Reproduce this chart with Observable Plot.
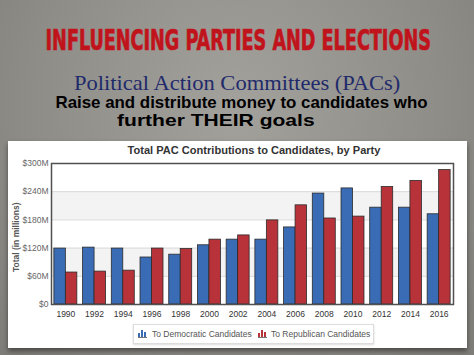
<!DOCTYPE html>
<html>
<head>
<meta charset="utf-8">
<script src="https://cdn.jsdelivr.net/npm/d3@7"></script>
<script src="https://cdn.jsdelivr.net/npm/@observablehq/plot@0.6"></script>
<style>
  html, body { margin: 0; padding: 0; }
  body { width: 474px; height: 355px; overflow: hidden; position: relative;
    background: radial-gradient(ellipse at 50% 30%, #a3a19c 0%, #8f8d88 60%, #7f7d78 100%); }
  .h { position: absolute; white-space: nowrap; line-height: 1; transform-origin: 50% 50%; }
  #t1 { font-family: "Liberation Sans Narrow", "DejaVu Sans Condensed", sans-serif; font-weight: bold; font-size: 28px; color: #c1131b; -webkit-text-stroke: 0.7px #c1131b; }
  #t2 { font-family: "Liberation Serif", "DejaVu Serif", serif; font-size: 21px; color: #1f2a6b; }
  #t3, #t4 { font-family: "Liberation Sans", Arial, sans-serif; font-weight: bold; font-size: 17px; color: #000; }
  #panel { position: absolute; left: 8px; top: 141px; width: 459px; height: 207px; background: #fff;
    box-shadow: 0 3px 5px rgba(0,0,0,0.45); }
  #panel svg { position: absolute; left: 0; top: 0; }
  #ctitle { position: absolute; font-family: "Liberation Sans", Arial, sans-serif; font-weight: bold; font-size: 10.5px; color: #333; white-space: nowrap; line-height: 1; }
  #ylab { position: absolute; font-family: "Liberation Sans", Arial, sans-serif; font-weight: bold; font-size: 8.5px; color: #555; white-space: nowrap; line-height: 1; transform-origin: 50% 50%; }
  #legend { position: absolute; left: 125px; top: 183px; width: 239px; height: 18px; border: 1px solid #ddd; background: #fff;
    box-shadow: 0 1px 2px rgba(0,0,0,0.15); font-family: "Liberation Sans", Arial, sans-serif; font-size: 8.5px; color: #555; }
  #legend span.item { position: absolute; top: 5px; white-space: nowrap; line-height: 1; }
  #legend svg { position: absolute; }
</style>
</head>
<body>
<div id="t1" class="h">INFLUENCING PARTIES AND ELECTIONS</div>
<div id="t2" class="h">Political Action Committees (PACs)</div>
<div id="t3" class="h">Raise and distribute money to candidates who</div>
<div id="t4" class="h">further THEIR goals</div>
<div id="panel">
  <div id="ctitle">Total PAC Contributions to Candidates, by Party</div>
  <div id="ylab">Total (in millions)</div>
  <div id="legend"></div>
</div>
<script>
// ---- data ----
const years = ["1990", "1992", "1994", "1996", "1998", "2000", "2002", "2004", "2006", "2008", "2010", "2012", "2014", "2016"];
const democratic = [119, 121, 119, 100, 106, 126, 138, 138, 164, 236, 247, 206, 206, 192];
const republican = [68, 70, 72, 119, 118, 138, 147, 179, 211, 183, 187, 250, 263, 286];
const seriesNames = ["To Democratic Candidates", "To Republican Candidates"];
const seriesColors = ["#3a6cb6", "#b8323a"];
const yTicks = [0, 60, 120, 180, 240, 300];
const bands = [[60, 120], [180, 240]];

const rows = [];
years.forEach((yr, i) => {
  rows.push({i, year: yr, party: seriesNames[0], value: democratic[i], side: -1});
  rows.push({i, year: yr, party: seriesNames[1], value: republican[i], side: 1});
});
const half = 0.4; // half of group width in category units

const chart = Plot.plot({
  width: 459,
  height: 207,
  marginLeft: 43,
  marginRight: 14,
  marginTop: 22,
  marginBottom: 44,
  style: {background: "transparent", fontFamily: "Liberation Sans, Arial, sans-serif", fontSize: "8.5px", color: "#333"},
  x: {type: "linear", domain: [-0.5, years.length - 0.5], ticks: years.map((_, i) => i),
      tickFormat: i => String(years[i]), tickSize: 0, tickPadding: 6, label: null},
  y: {domain: [0, 300], ticks: yTicks, tickFormat: d => d === 0 ? "$0" : `$${d}M`, tickSize: 0, tickPadding: 3, label: null},
  color: {domain: seriesNames, range: seriesColors},
  marks: [
    Plot.rectY(bands, {x1: -0.5, x2: years.length - 0.5, y1: d => d[0], y2: d => d[1], fill: "#f3f3f3"}),
    Plot.ruleY(yTicks.slice(1, -1), {stroke: "#d9d9d9", strokeWidth: 1}),
    Plot.rectY(rows, {
      x1: d => d.side < 0 ? d.i - half : d.i,
      x2: d => d.side < 0 ? d.i : d.i + half,
      y1: 0, y2: "value", fill: "party", stroke: "#2b2b2b", strokeWidth: 0.8
    }),
    Plot.frame({stroke: "#505050", strokeWidth: 1.5})
  ]
});
chart.querySelectorAll("g[aria-label='y-axis'] text, g[aria-label='y-axis tick label'] text").forEach(t => t.setAttribute("fill", "#666"));
document.getElementById("panel").prepend(chart);

// legend
const legend = document.getElementById("legend");
const legendPos = [{icon: 4, text: 18}, {icon: 124, text: 137}];
seriesNames.forEach((name, k) => {
  const ns = "http://www.w3.org/2000/svg";
  const s = document.createElementNS(ns, "svg");
  s.setAttribute("width", 9); s.setAttribute("height", 9);
  s.style.left = legendPos[k].icon + "px"; s.style.top = "4px";
  [[0, 4, 2, 5], [3, 1, 2, 8], [6, 3, 2, 6]].forEach(([x, y, w, h]) => {
    const r = document.createElementNS(ns, "rect");
    r.setAttribute("x", x); r.setAttribute("y", y); r.setAttribute("width", w); r.setAttribute("height", h);
    r.setAttribute("fill", seriesColors[k]);
    s.appendChild(r);
  });
  const base = document.createElementNS(ns, "rect");
  base.setAttribute("x", 0); base.setAttribute("y", 8); base.setAttribute("width", 9); base.setAttribute("height", 1);
  base.setAttribute("fill", "#777"); s.appendChild(base);
  legend.appendChild(s);
  const sp = document.createElement("span");
  sp.className = "item"; sp.textContent = name; sp.style.left = legendPos[k].text + "px";
  legend.appendChild(sp);
});

// position & fit headings: [id, centerX, top, targetWidth]
function place(id, cx, top, w) {
  const el = document.getElementById(id);
  const ow = el.offsetWidth;
  el.style.left = (cx - ow / 2) + "px";
  el.style.top = top + "px";
  el.style.transform = `scaleX(${w / ow})`;
}
place("t1", 237.5, 26.5, 385);
place("t2", 237, 72.5, 326);
place("t3", 241, 93.5, 372);
place("t4", 216, 112, 198);

// chart title and y label inside panel (panel-relative coords)
(function(){
  const ct = document.getElementById("ctitle");
  const w = ct.offsetWidth;
  ct.style.left = (253.5 - 8 - w / 2) + "px";
  ct.style.top = (145 - 141) + "px";
  ct.style.transform = `scaleX(${253 / w})`;
  const yl = document.getElementById("ylab");
  const lw = yl.offsetWidth, lh = yl.offsetHeight;
  yl.style.left = (16 - 8 - lw / 2) + "px";
  yl.style.top = (237 - 141 - lh / 2) + "px";
  yl.style.transform = "rotate(-90deg)";
})();
</script>
</body>
</html>
